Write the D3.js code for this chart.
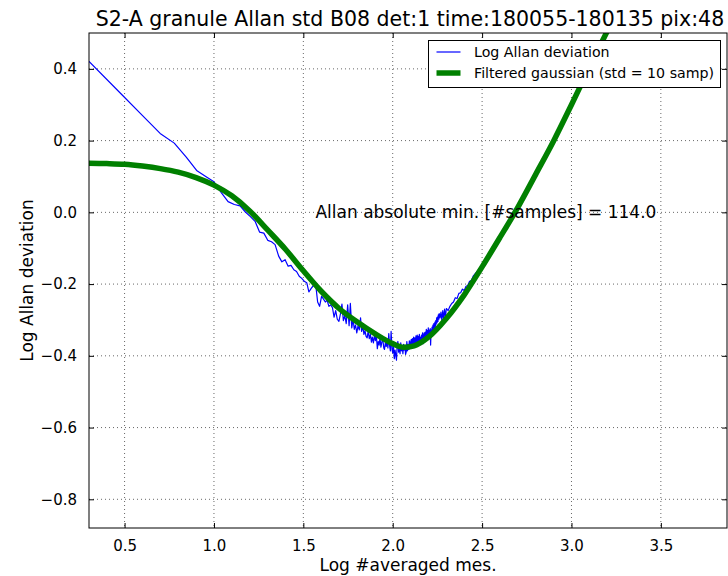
<!DOCTYPE html>
<html>
<head>
<meta charset="utf-8">
<script src="https://cdn.jsdelivr.net/npm/d3@7"></script>
<style>
  body { margin: 0; background: #fff; }
  svg { display: block; font-family: "DejaVu Sans", sans-serif; }
</style>
</head>
<body>
<svg id="chart"></svg>
<script>
// log10(#averaged samples) vs log10(Allan deviation)
const blueLogN = [
  0.301, 0.477, 0.602, 0.699, 0.778, 0.845, 0.903, 0.954, 1.000, 1.041,
  1.079, 1.114, 1.146, 1.176, 1.204, 1.230, 1.255, 1.279, 1.301, 1.322,
  1.342, 1.362, 1.380, 1.398, 1.415, 1.431, 1.447, 1.462, 1.477, 1.491,
  1.505, 1.519, 1.531, 1.544, 1.556, 1.568, 1.580, 1.591, 1.602, 1.613,
  1.623, 1.633, 1.643, 1.653, 1.663, 1.672, 1.681, 1.690, 1.699, 1.708,
  1.716, 1.724, 1.732, 1.740, 1.748, 1.756, 1.763, 1.771, 1.778, 1.785,
  1.792, 1.799, 1.806, 1.813, 1.820, 1.826, 1.833, 1.839, 1.845, 1.851,
  1.857, 1.863, 1.869, 1.875, 1.881, 1.886, 1.892, 1.898, 1.903, 1.908,
  1.914, 1.919, 1.924, 1.929, 1.934, 1.940, 1.945, 1.950, 1.954, 1.959,
  1.964, 1.968, 1.973, 1.978, 1.982, 1.987, 1.991, 1.996, 2.000, 2.004,
  2.009, 2.013, 2.017, 2.021, 2.025, 2.029, 2.033, 2.037, 2.041, 2.045,
  2.049, 2.053, 2.057, 2.061, 2.064, 2.068, 2.072, 2.076, 2.079, 2.083,
  2.086, 2.090, 2.093, 2.097, 2.100, 2.104, 2.107, 2.111, 2.114, 2.117,
  2.121, 2.124, 2.127, 2.130, 2.134, 2.137, 2.140, 2.143, 2.146, 2.149,
  2.152, 2.155, 2.158, 2.161, 2.164, 2.167, 2.170, 2.173, 2.176, 2.179,
  2.182, 2.185, 2.188, 2.190, 2.193, 2.196, 2.199, 2.201, 2.204, 2.207,
  2.210, 2.212, 2.215, 2.217, 2.220, 2.223, 2.225, 2.228, 2.230, 2.233,
  2.236, 2.238, 2.241, 2.243, 2.246, 2.248, 2.250, 2.253, 2.255, 2.258,
  2.260, 2.265, 2.270, 2.275, 2.280, 2.285, 2.290, 2.295, 2.300, 2.310,
  2.320, 2.330, 2.340, 2.350, 2.360, 2.370, 2.380, 2.390, 2.400, 2.410,
  2.420, 2.430, 2.440, 2.450, 2.500, 2.600, 2.700, 2.800, 2.900, 3.000,
  3.100, 3.200, 3.300
];
const blueLogDev = [
  0.421, 0.332, 0.269, 0.220, 0.193, 0.154, 0.117, 0.100, 0.085, 0.055,
  0.030, 0.022, 0.018, 0.001, -0.012, -0.025, -0.055, -0.058, -0.078, -0.082,
  -0.090, -0.122, -0.138, -0.132, -0.150, -0.148, -0.160, -0.165, -0.178, -0.184,
  -0.192, -0.196, -0.222, -0.212, -0.204, -0.196, -0.250, -0.262, -0.234, -0.242,
  -0.250, -0.245, -0.262, -0.258, -0.266, -0.292, -0.274, -0.298, -0.304, -0.282,
  -0.256, -0.302, -0.288, -0.310, -0.258, -0.316, -0.254, -0.322, -0.298, -0.326,
  -0.314, -0.336, -0.316, -0.328, -0.294, -0.332, -0.318, -0.340, -0.330, -0.346,
  -0.350, -0.330, -0.352, -0.340, -0.362, -0.348, -0.364, -0.342, -0.358, -0.340,
  -0.380, -0.360, -0.370, -0.350, -0.376, -0.360, -0.356, -0.378, -0.382, -0.364,
  -0.374, -0.354, -0.378, -0.338, -0.370, -0.386, -0.332, -0.382, -0.392, -0.370,
  -0.408, -0.384, -0.398, -0.412, -0.370, -0.360, -0.390, -0.376, -0.394, -0.364,
  -0.386, -0.372, -0.394, -0.368, -0.384, -0.374, -0.396, -0.388, -0.360, -0.386,
  -0.368, -0.382, -0.358, -0.378, -0.362, -0.354, -0.376, -0.352, -0.370, -0.348,
  -0.368, -0.350, -0.370, -0.344, -0.364, -0.342, -0.362, -0.346, -0.364, -0.340,
  -0.362, -0.348, -0.368, -0.342, -0.364, -0.336, -0.366, -0.344, -0.336, -0.358,
  -0.334, -0.352, -0.326, -0.348, -0.330, -0.346, -0.322, -0.342, -0.328, -0.344,
  -0.324, -0.370, -0.328, -0.338, -0.320, -0.336, -0.314, -0.328, -0.310, -0.324,
  -0.306, -0.320, -0.302, -0.312, -0.294, -0.308, -0.292, -0.304, -0.286, -0.298,
  -0.282, -0.294, -0.278, -0.302, -0.274, -0.298, -0.270, -0.292, -0.268, -0.274,
  -0.262, -0.254, -0.250, -0.238, -0.240, -0.226, -0.224, -0.214, -0.218, -0.206,
  -0.204, -0.192, -0.190, -0.178, -0.148, -0.074, 0.014, 0.108, 0.198, 0.302,
  0.404, 0.504, 0.600
];

// gaussian-filtered curve (std = 10 samples)
const gaussLogN = [
  0.301, 0.4, 0.5, 0.6, 0.7, 0.8, 0.9, 1.0, 1.1, 1.2, 1.3, 1.4, 1.5, 1.6,
  1.7, 1.8, 1.9, 2.0, 2.06, 2.12, 2.2, 2.3, 2.4, 2.5, 2.6, 2.7, 2.8, 2.9,
  3.0, 3.1, 3.2, 3.3
];
const gaussLogDev = [
  0.137, 0.136, 0.134, 0.129, 0.122, 0.112, 0.097, 0.076, 0.046, 0.004,
  -0.049, -0.103, -0.163, -0.220, -0.268, -0.305, -0.338, -0.366, -0.376, -0.372,
  -0.348, -0.296, -0.230, -0.152, -0.070, 0.014, 0.106, 0.199, 0.300, 0.404,
  0.505, 0.607
];

const xTicks = [0.5, 1.0, 1.5, 2.0, 2.5, 3.0, 3.5];
const yTicks = [0.4, 0.2, 0.0, -0.2, -0.4, -0.6, -0.8];

const minSamples = 114.0;

const W = 728, H = 576;
const margin = { top: 33, right: 1, bottom: 48, left: 89 };
const width = W - margin.left - margin.right;
const height = H - margin.top - margin.bottom;

const svg = d3.select("#chart").attr("width", W).attr("height", H);

const x = d3.scaleLinear().domain([0.301, 3.87]).range([0, width]);
const y = d3.scaleLinear().domain([-0.88, 0.5]).range([height, 0]);

const g = svg.append("g").attr("transform", `translate(${margin.left},${margin.top})`);

svg.append("defs").append("clipPath").attr("id", "clip")
  .append("rect").attr("width", width).attr("height", height);

// dotted grid
g.append("g").selectAll("line").data(xTicks).join("line")
  .attr("x1", d => x(d)).attr("x2", d => x(d))
  .attr("y1", 0).attr("y2", height)
  .attr("stroke", "#000").attr("stroke-width", 0.6).attr("stroke-dasharray", "1,3");
g.append("g").selectAll("line").data(yTicks).join("line")
  .attr("y1", d => y(d)).attr("y2", d => y(d))
  .attr("x1", 0).attr("x2", width)
  .attr("stroke", "#000").attr("stroke-width", 0.6).attr("stroke-dasharray", "1,3");

// lines
const plot = g.append("g").attr("clip-path", "url(#clip)");
const blueLine = d3.line().x(d => x(d[0])).y(d => y(d[1]));
const greenLine = d3.line().x(d => x(d[0])).y(d => y(d[1])).curve(d3.curveMonotoneX);

plot.append("path")
  .datum(blueLogN.map((v, i) => [v, blueLogDev[i]]))
  .attr("d", blueLine)
  .attr("fill", "none").attr("stroke", "#0000ff").attr("stroke-width", 1.2)
  .attr("stroke-linejoin", "round");

plot.append("path")
  .datum(gaussLogN.map((v, i) => [v, gaussLogDev[i]]))
  .attr("d", greenLine)
  .attr("fill", "none").attr("stroke", "#008000").attr("stroke-width", 5.5)
  .attr("stroke-linejoin", "round");

// axes: inward ticks on all four sides
const fmt = d3.format(".1f");
const tickLabel = d => fmt(d).replace("-", "\u2212");

function styleAxis(sel) {
  sel.select(".domain").remove();
  sel.selectAll(".tick line").attr("stroke", "#000");
  sel.selectAll(".tick text").attr("fill", "#000").style("font-size", "15px")
    .style("font-family", "DejaVu Sans");
}

g.append("g").attr("transform", `translate(0,${height})`)
  .call(d3.axisBottom(x).tickValues(xTicks).tickFormat(tickLabel).tickSizeInner(-5).tickPadding(12))
  .call(styleAxis);
g.append("g")
  .call(d3.axisTop(x).tickValues(xTicks).tickFormat("").tickSizeInner(-5))
  .call(styleAxis);
g.append("g")
  .call(d3.axisLeft(y).tickValues(yTicks).tickFormat(tickLabel).tickSizeInner(-5).tickPadding(12))
  .call(styleAxis);
g.append("g").attr("transform", `translate(${width},0)`)
  .call(d3.axisRight(y).tickValues(yTicks).tickFormat("").tickSizeInner(-5))
  .call(styleAxis);

g.append("rect").attr("width", width).attr("height", height)
  .attr("fill", "none").attr("stroke", "#000").attr("stroke-width", 1);

// annotation
g.append("text")
  .attr("x", x(1.568)).attr("y", y(0.0))
  .attr("dy", "0.35em")
  .style("font-size", "17px")
  .text(`Allan absolute min. [#samples] = ${minSamples.toFixed(1)}`);

// legend
const legend = svg.append("g").attr("transform", "translate(428.5,40.5)");
legend.append("rect").attr("width", 292).attr("height", 47)
  .attr("fill", "#fff").attr("stroke", "#000").attr("stroke-width", 1);
const legendItems = [
  { label: "Log Allan deviation", color: "#0000ff", w: 1.2 },
  { label: "Filtered gaussian (std = 10 samp)", color: "#008000", w: 5.5 }
];
legendItems.forEach((d, i) => {
  const yy = 11.5 + i * 21;
  legend.append("line").attr("x1", 8).attr("x2", 32).attr("y1", yy).attr("y2", yy)
    .attr("stroke", d.color).attr("stroke-width", d.w);
  legend.append("text").attr("x", 45.5).attr("y", yy).attr("dy", "0.35em")
    .style("font-size", "14.2px").text(d.label);
});

// titles
svg.append("text")
  .attr("x", 410).attr("y", 26)
  .attr("text-anchor", "middle").style("font-size", "20.5px")
  .text("S2-A granule Allan std B08 det:1 time:180055-180135 pix:48");

svg.append("text")
  .attr("x", margin.left + width / 2).attr("y", 571)
  .attr("text-anchor", "middle").style("font-size", "17px")
  .text("Log #averaged mes.");

svg.append("text")
  .attr("transform", `translate(33,${margin.top + height / 2}) rotate(-90)`)
  .attr("text-anchor", "middle").style("font-size", "17px")
  .text("Log Allan deviation");
</script>
</body>
</html>
